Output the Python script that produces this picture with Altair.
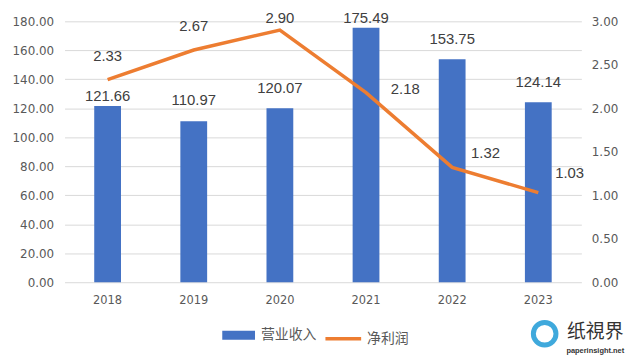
import altair as alt
import pandas as pd

years = ["2018", "2019", "2020", "2021", "2022", "2023"]
revenue = [121.66, 110.97, 120.07, 175.49, 153.75, 124.14]
profit = [2.33, 2.67, 2.90, 2.18, 1.32, 1.03]
rev_name = "营业收入"
pro_name = "净利润"
left_ticks = [0, 20, 40, 60, 80, 100, 120, 140, 160, 180]
right_ticks = [0, 0.5, 1.0, 1.5, 2.0, 2.5, 3.0]

BLUE = "#4472C4"
ORANGE = "#ED7D31"

df_bar = pd.DataFrame({"year": years, "value": revenue, "series": rev_name})
df_line = pd.DataFrame({"year": years, "value": profit, "series": pro_name})
df_bar["label"] = df_bar["value"].map(lambda v: f"{v:.2f}")
df_line["label"] = df_line["value"].map(lambda v: f"{v:.2f}")

x_enc = alt.X("year:N", sort=years,
              scale=alt.Scale(paddingInner=0.69, paddingOuter=0.345),
              axis=alt.Axis(title=None, labelAngle=0, ticks=False, domain=False,
                            labelPadding=12, labelFont="DejaVu Sans",
                            labelFontSize=11.5, labelColor="#595959"))

left_axis = alt.Axis(title=None, orient="left", format=".2f",
                     values=left_ticks, tickCount=10,
                     ticks=False, domain=False, grid=True,
                     gridColor="#D9D9D9", gridWidth=1,
                     labelOverlap=False, labelFlush=False,
                     labelPadding=11, labelFont="DejaVu Sans",
                     labelFontSize=12, labelColor="#595959")
right_axis = alt.Axis(title=None, orient="right", format=".2f",
                      values=right_ticks, tickCount=7,
                      ticks=False, domain=False, grid=False,
                      labelOverlap=False, labelFlush=False,
                      labelPadding=10, labelFont="DejaVu Sans",
                      labelFontSize=12, labelColor="#595959")
left_scale = alt.Scale(domain=[0, 180], nice=False)
right_scale = alt.Scale(domain=[0, 3], nice=False)

def yl():
    return alt.Y("value:Q", scale=left_scale, axis=left_axis)

def yr_():
    return alt.Y("value:Q", scale=right_scale, axis=right_axis)

bars = alt.Chart(df_bar).mark_bar(size=27).encode(
    x=x_enc,
    y=yl(),
    color=alt.Color("series:N",
                    scale=alt.Scale(domain=[rev_name], range=[BLUE]),
                    legend=alt.Legend(title=None, orient="none", legendX=159, legendY=300,
                                      direction="horizontal", padding=0,
                                      symbolType="M-1,-0.27L1,-0.27L1,0.27L-1,0.27Z",
                                      symbolSize=1089, symbolStrokeWidth=0,
                                      labelOffset=6, labelFont="Noto Sans CJK SC",
                                      labelFontSize=14, labelColor="#595959")),
)

bar_offsets = {"2018": -10, "2019": -21, "2020": -20, "2021": -10, "2022": -20, "2023": -20}
bar_texts = []
for yr, dy in bar_offsets.items():
    bar_texts.append(
        alt.Chart(df_bar).transform_filter(alt.datum.year == yr)
        .mark_text(dy=dy, baseline="middle", align="center", font="Liberation Sans",
                   fontSize=15, color="#404040")
        .encode(x=x_enc, y=yl(), text="label:N")
    )

left = alt.layer(bars, *bar_texts)

line = alt.Chart(df_line).mark_line(strokeWidth=3.5, color=ORANGE).encode(
    x=x_enc,
    y=yr_(),
    color=alt.Color("series:N",
                    scale=alt.Scale(domain=[pro_name], range=[ORANGE]),
                    legend=alt.Legend(title=None, orient="none", legendX=261, legendY=300,
                                      direction="horizontal", padding=0,
                                      symbolType="stroke", symbolSize=1296,
                                      symbolStrokeWidth=3.5,
                                      labelOffset=4, labelFont="Noto Sans CJK SC",
                                      labelFontSize=14, labelColor="#595959")),
)

line_offsets = {
    "2018": ("center", 0, -24),
    "2019": ("center", 0, -24),
    "2020": ("center", 0, -12),
    "2021": ("left", 25, -4),
    "2022": ("left", 19, -14),
    "2023": ("left", 17, -20),
}
line_texts = []
for yr, (al, dx, dy) in line_offsets.items():
    line_texts.append(
        alt.Chart(df_line).transform_filter(alt.datum.year == yr)
        .mark_text(dx=dx, dy=dy, align=al, baseline="middle", font="Liberation Sans",
                   fontSize=15, color="#404040")
        .encode(x=x_enc, y=yr_(), text="label:N")
    )

right = alt.layer(line, *line_texts)

wm = pd.DataFrame({"t": ["纸視界"], "u": ["paperinsight.net"]})
wm1 = alt.Chart(wm).mark_text(font="Noto Sans CJK SC", fontSize=19, color="#333333",
                              align="center", baseline="middle").encode(
    x=alt.value(535), y=alt.value(313), text="t:N")
wm2 = alt.Chart(wm).mark_text(font="Liberation Sans", fontSize=7.5, fontWeight="bold",
                              color="#333333", align="center", baseline="middle").encode(
    x=alt.value(535), y=alt.value(332), text="u:N")
wm3 = alt.Chart(wm).mark_point(shape="circle", filled=False, size=520, strokeWidth=5,
                               color="#3FA9DC", opacity=1).encode(
    x=alt.value(484), y=alt.value(315))

chart = alt.layer(left, right, wm1, wm2, wm3).resolve_scale(
    y="independent", color="independent"
).properties(
    width=521, height=263,
    padding={"left": 57, "top": 12, "right": 46, "bottom": 78},
    autosize=alt.AutoSizeParams(type="none"),
    background="white",
).configure_view(stroke=None)

chart.save("out.html", embed_options={"renderer": "svg", "actions": False})
